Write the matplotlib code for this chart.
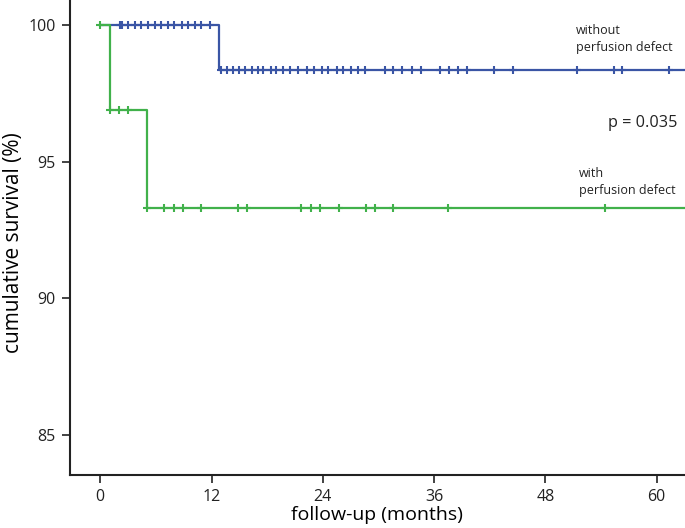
import matplotlib
matplotlib.use("Agg")
import matplotlib.pyplot as plt

plt.rcParams["font.family"] = ["Open Sans", "DejaVu Sans"]

BLUE = "#3a55a5"
GREEN = "#41b14b"

# survival steps (months, %)
blue_times = [0, 12.8, 63.2]
blue_surv = [100, 98.36, 98.36]
green_times = [0, 1.0, 5.0, 63.2]
green_surv = [100, 96.88, 93.29, 93.29]

# censored observations
blue_cens_t = [2.1, 2.3, 3.0, 3.7, 4.4, 5.2, 5.9, 6.6, 7.3, 8.0, 8.8, 9.5, 10.2, 10.9, 11.8,
               13.0, 13.7, 14.3, 15.0, 15.6, 16.4, 17.0, 17.6, 18.4, 19.0, 19.7, 20.5, 21.3,
               22.3, 23.0, 23.9, 24.6, 25.5, 26.2, 27.0, 27.8, 28.5, 30.7, 31.6, 32.5, 33.6,
               34.6, 36.6, 37.6, 38.6, 39.5, 42.5, 44.5, 51.4, 55.4, 56.3, 61.3]
green_cens_t = [0.0, 1.0, 2.0, 3.0, 5.0, 6.9, 7.9, 8.9, 10.9, 14.8, 15.8, 21.7, 22.7, 23.7,
                25.7, 28.7, 29.6, 31.6, 37.5, 54.4]


def surv_at(t, times, surv):
    val = surv[0]
    for tt, s in zip(times, surv):
        if t >= tt:
            val = s
    return val


fig = plt.figure(figsize=(6.85, 5.28), dpi=100)
ax = fig.add_axes([0.102, 0.1004, 0.898, 0.8996])

ax.step(blue_times, blue_surv, where="post", color=BLUE, lw=1.6, zorder=2)
ax.plot(blue_cens_t, [surv_at(t, blue_times, blue_surv) for t in blue_cens_t],
        ls="none", marker="+", ms=6, mew=1.5, color=BLUE, zorder=3)
ax.step(green_times, green_surv, where="post", color=GREEN, lw=1.6, zorder=4)
ax.plot(green_cens_t, [surv_at(t, green_times, green_surv) for t in green_cens_t],
        ls="none", marker="+", ms=6, mew=1.5, color=GREEN, zorder=5)

ax.set_xlim(-3.28, 63.06)
ax.set_ylim(83.54, 100.91)
ax.set_xticks([0, 12, 24, 36, 48, 60])
ax.set_yticks([85, 90, 95, 100])
ax.spines["top"].set_visible(False)
ax.spines["right"].set_visible(False)
for sp in ("left", "bottom"):
    ax.spines[sp].set_linewidth(1.5)
    ax.spines[sp].set_color("#222222")
ax.tick_params(direction="out", length=6, width=1.2, labelsize=11.5, colors="#222222", pad=4)
ax.set_xlabel("follow-up (months)", fontsize=14)
ax.set_ylabel("cumulative survival (%)", fontsize=15)
ax.xaxis.set_label_coords(0.5, -0.066)
ax.yaxis.set_label_coords(-0.074, 0.49)

ax.text(51.3, 99.49, "without\nperfusion defect", fontsize=9, va="center", ha="left",
        linespacing=1.4, color="#222222")
ax.text(62.2, 96.42, "p = 0.035", fontsize=11.7, va="center", ha="right", color="#222222")
ax.text(51.6, 94.24, "with\nperfusion defect", fontsize=9, va="center", ha="left",
        linespacing=1.4, color="#222222")

fig.savefig("out.png", dpi=100)
